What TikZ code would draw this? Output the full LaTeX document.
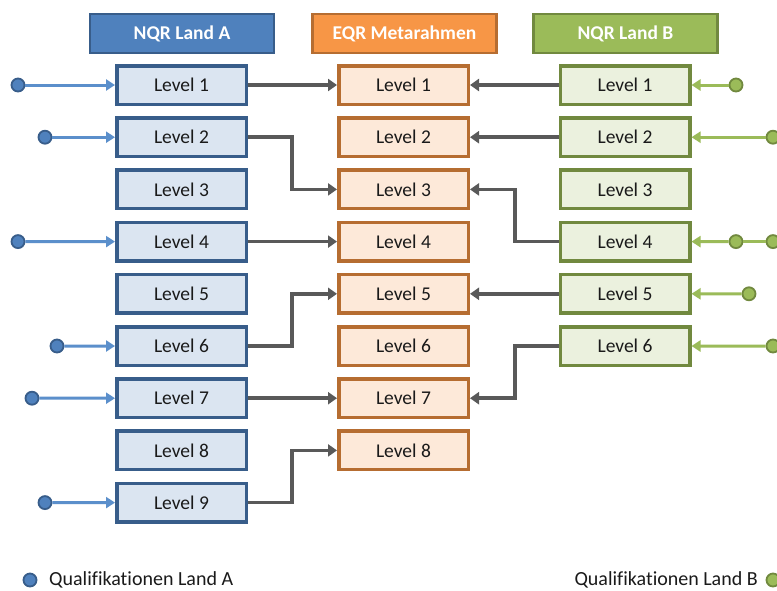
\documentclass[tikz,border=0pt]{standalone}
\usepackage{fontspec}
\setmainfont{Carlito}[Ligatures=NoCommon]
\usetikzlibrary{arrows.meta}
\definecolor{bluefill}{HTML}{4F81BD}
\definecolor{blueline}{HTML}{385D8A}
\definecolor{bluelight}{HTML}{DBE5F1}
\definecolor{bluearrow}{HTML}{5B8FCB}
\definecolor{orangefill}{HTML}{F79646}
\definecolor{orangeline}{HTML}{B66D31}
\definecolor{orangelight}{HTML}{FDE9D9}
\definecolor{greenfill}{HTML}{9BBB59}
\definecolor{greenline}{HTML}{71893F}
\definecolor{greenlight}{HTML}{EBF1DE}
\definecolor{greenarrow}{HTML}{9BBB59}
\definecolor{conngray}{HTML}{595959}
\definecolor{txt}{HTML}{1A1A1A}
\tikzset{
  basefont/.style={font=\fontsize{19.5}{22}\selectfont},
  header/.style={font=\fontsize{19.5}{22}\selectfont\bfseries, text=white, line width=2.5pt,
    minimum width=184pt, minimum height=39pt, inner sep=0pt},
  hA/.style={header, fill=bluefill, draw=blueline},
  hE/.style={header, fill=orangefill, draw=orangeline},
  hB/.style={header, fill=greenfill, draw=greenline},
  lvl/.style={basefont, text=txt, line width=3.5pt, minimum width=129.5pt, minimum height=38.5pt, inner sep=0pt},
  lvA/.style={lvl, fill=bluelight, draw=blueline},
  lvE/.style={lvl, fill=orangelight, draw=orangeline},
  lvB/.style={lvl, fill=greenlight, draw=greenline},
  dotA/.style={circle, fill=bluefill, draw=blueline, line width=1.8pt, minimum size=13pt, inner sep=0pt},
  dotB/.style={circle, fill=greenfill, draw=greenline, line width=1.8pt, minimum size=13pt, inner sep=0pt},
  inA/.style={draw=bluearrow, line width=3pt, -{Triangle[length=9pt,width=11pt]}},
  inB/.style={draw=greenarrow, line width=3pt, -{Triangle[length=9pt,width=11pt]}},
  inBplain/.style={draw=greenarrow, line width=3pt},
  conn/.style={draw=conngray, line width=3.5pt, -{Triangle[length=9pt,width=12pt]}},
  legend/.style={font=\fontsize{20}{23}\selectfont, text=txt, inner sep=0pt}
}
\begin{document}
\begin{tikzpicture}[x=1pt,y=-1pt]
\clip (0,0) rectangle (777,590);
\fill[white] (0,0) rectangle (777,590);
% headers
\node[hA] (HA) at (182,33.5) {NQR Land A};
\node[hE] (HE) at (404.5,33.5) {EQR Metarahmen};
\node[hB] (HB) at (625.5,33.5) {NQR Land B};
% level boxes
\foreach \i in {1,...,9} {
  \node[lvA] (A\i) at (181.5,{85+52.2*(\i-1)}) {Level \i};
}
\foreach \i in {1,...,8} {
  \node[lvE] (E\i) at (403.5,{85+52.2*(\i-1)}) {Level \i};
}
\foreach \i in {1,...,6} {
  \node[lvB] (B\i) at (625,{85+52.2*(\i-1)}) {Level \i};
}
% elbow coordinates
\coordinate (elA) at (292,0);
\coordinate (elB) at (515,0);
% gray connectors
\draw[conn] (A1.east) -- (E1.west);
\draw[conn] (A2.east) -- (A2.east -| elA) |- (E3.west);
\draw[conn] (A4.east) -- (E4.west);
\draw[conn] (A6.east) -- (A6.east -| elA) |- (E5.west);
\draw[conn] (A7.east) -- (E7.west);
\draw[conn] (A9.east) -- (A9.east -| elA) |- (E8.west);
\draw[conn] (B1.west) -- (E1.east);
\draw[conn] (B2.west) -- (E2.east);
\draw[conn] (B4.west) -- (B4.west -| elB) |- (E3.east);
\draw[conn] (B5.west) -- (E5.east);
\draw[conn] (B6.west) -- (B6.west -| elB) |- (E7.east);
% inputs land A
\node[dotA] (a1) at (18,85) {};
\node[dotA] (a2) at (45,137.2) {};
\node[dotA] (a4) at (18,241.6) {};
\node[dotA] (a6) at (57,346) {};
\node[dotA] (a7) at (32,398.2) {};
\node[dotA] (a9) at (45,502.6) {};
\draw[inA] (a1) -- (A1);
\draw[inA] (a2) -- (A2);
\draw[inA] (a4) -- (A4);
\draw[inA] (a6) -- (A6);
\draw[inA] (a7) -- (A7);
\draw[inA] (a9) -- (A9);
% inputs land B
\node[dotB] (b1) at (736,85) {};
\node[dotB] (b2) at (773,137.2) {};
\node[dotB] (b4a) at (736,241.6) {};
\node[dotB] (b4b) at (773,241.6) {};
\node[dotB] (b5) at (749,293.8) {};
\node[dotB] (b6) at (773,346) {};
\draw[inB] (b1) -- (B1);
\draw[inB] (b2) -- (B2);
\draw[inBplain] (b4b) -- (b4a);
\draw[inB] (b4a) -- (B4);
\draw[inB] (b5) -- (B5);
\draw[inB] (b6) -- (B6);
% legend
\node[dotA] (lA) at (30,580) {};
\node[legend, anchor=west] (tA) at (49,579.5) {Qualifikationen Land A};
\node[dotB] (lB) at (773,580) {};
\node[legend, anchor=east] (tB) at (758,579.5) {Qualifikationen Land B};
\end{tikzpicture}
\end{document}
